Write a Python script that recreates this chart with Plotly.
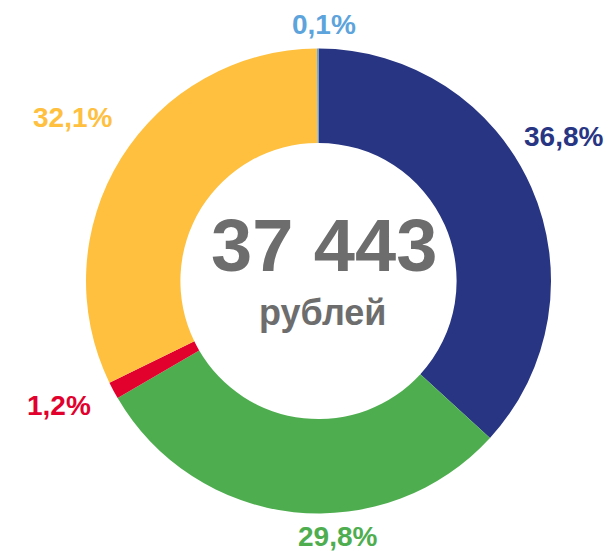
import plotly.graph_objects as go

# Data
categories = ["Категория 1", "Категория 2", "Категория 3", "Категория 4", "Категория 5"]
shares = [36.8, 29.8, 1.2, 32.1, 0.1]
share_labels = ["36,8%", "29,8%", "1,2%", "32,1%", "0,1%"]
total_value = "37 443"
total_unit = "рублей"

# Styles
colors = ["#283583", "#4EAE4F", "#E2002D", "#FEC03E", "#5DA3DC"]
W, H = 611, 551
CX, CY, R_OUT = 318.5, 281.0, 232.5
HOLE = 0.594
# label centres as pixel offsets from the pie centre (layout, not data)
label_offsets = [(245, -144), (19, 255), (-260, 124), (-246, -164), (6, -257)]

fig = go.Figure(go.Pie(
    labels=categories,
    values=shares,
    hole=HOLE,
    sort=False,
    direction="clockwise",
    rotation=0,
    marker=dict(colors=colors, line=dict(width=0)),
    textinfo="none",
    hoverinfo="label+percent",
    showlegend=False,
    domain=dict(x=[(CX - R_OUT) / W, (CX + R_OUT) / W],
                y=[1 - (CY + R_OUT) / H, 1 - (CY - R_OUT) / H]),
))

FONT = "Liberation Sans, Arial, sans-serif"
anns = []
for txt, col, (dx, dy) in zip(share_labels, colors, label_offsets):
    anns.append(dict(x=(CX + dx) / W, y=1 - (CY + dy) / H, xref="paper", yref="paper",
                     text=f"<b>{txt}</b>", showarrow=False, xanchor="center", yanchor="middle",
                     font=dict(family=FONT, size=28, color=col)))
anns.append(dict(x=323.5 / W, y=1 - 245.5 / H, xref="paper", yref="paper",
                 text=f"<b>{total_value}</b>", showarrow=False, xanchor="center", yanchor="middle",
                 font=dict(family=FONT, size=74, color="#6D6D6D")))
anns.append(dict(x=322.5 / W, y=1 - 312 / H, xref="paper", yref="paper",
                 text=f"<b>{total_unit}</b>", showarrow=False, xanchor="center", yanchor="middle",
                 font=dict(family=FONT, size=36, color="#6D6D6D")))

fig.update_layout(
    width=W, height=H,
    margin=dict(l=0, r=0, t=0, b=0),
    paper_bgcolor="white", plot_bgcolor="white",
    annotations=anns,
)
fig.write_html("out.html", config={"displayModeBar": False},
               post_script="document.body.style.margin='0';document.body.style.overflow='hidden';")
